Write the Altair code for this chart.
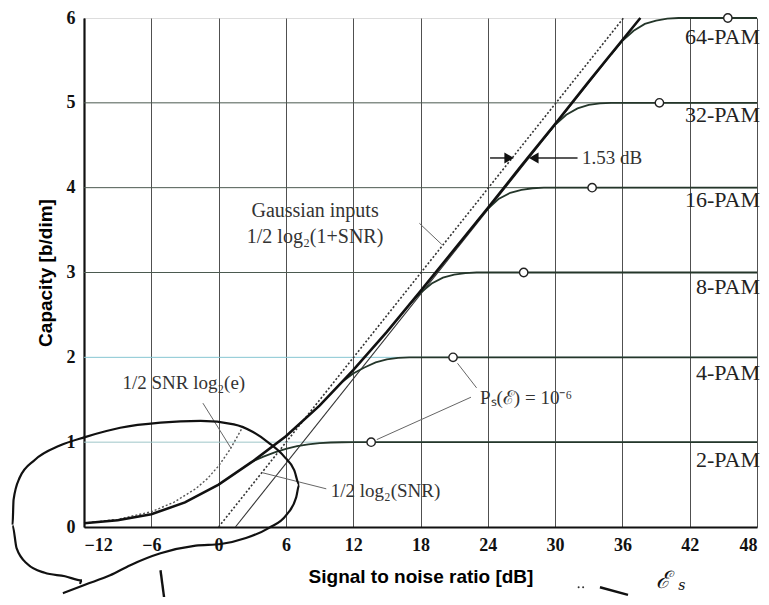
import altair as alt
import pandas as pd

# ---------------- data ----------------
x_ticks = [-12, -6, 0, 6, 12, 18, 24, 30, 36, 42, 48]
y_ticks = [0, 1, 2, 3, 4, 5, 6]
grid_levels = [1, 2, 3, 4, 5]

# thick envelope curve (SNR dB, capacity b/dim)
env_db = [-12, -9, -6, -3, 0, 3, 6, 9, 12, 15, 18, 21, 24, 27, 30, 33, 36, 37.6]
env_cap = [0.045, 0.08, 0.15, 0.29, 0.50, 0.77, 1.07, 1.43, 1.85, 2.30, 2.78, 3.27, 3.76, 4.26, 4.75, 5.25, 5.74, 6.0]

# M-PAM branches leaving the envelope and saturating
pam2_db = [3, 4, 5, 6, 7, 8, 9, 10, 11, 12, 48]
pam2_cap = [0.77, 0.83, 0.88, 0.92, 0.953, 0.975, 0.988, 0.996, 0.999, 1.0, 1.0]
pam4_db = [11, 12, 13, 14, 15, 16, 17, 48]
pam4_cap = [1.71, 1.81, 1.88, 1.94, 1.975, 1.993, 2.0, 2.0]
pam8_db = [17, 18, 19, 20, 21, 22, 23, 48]
pam8_cap = [2.62, 2.76, 2.87, 2.94, 2.975, 2.993, 3.0, 3.0]
pam16_db = [23, 24, 25, 26, 27, 28, 29, 48]
pam16_cap = [3.60, 3.75, 3.87, 3.94, 3.975, 3.993, 4.0, 4.0]
pam32_db = [29, 30, 31, 32, 33, 34, 35, 48]
pam32_cap = [4.58, 4.74, 4.86, 4.935, 4.975, 4.993, 5.0, 5.0]
pam64_db = [35, 36, 37, 38, 39, 40, 41, 48]
pam64_cap = [5.57, 5.73, 5.85, 5.93, 5.97, 5.993, 6.0, 6.0]

pam_names = ["2-PAM", "4-PAM", "8-PAM", "16-PAM", "32-PAM", "64-PAM"]
pam_label_cap = [0.79, 1.82, 2.83, 3.86, 4.86, 5.78]
pam_label_db = [48, 48, 48, 48, 48, 48]

# Ps(E)=1e-6 operating points (open circles)
circle_db = [13.6, 20.9, 27.2, 33.3, 39.3, 45.4]
circle_cap = [1, 2, 3, 4, 5, 6]

# dotted 1/2 log2(SNR) asymptote and thin shifted asymptote
asym_db = [0, 36.1]
asym_cap = [0, 6]
shift_db = [1.5, 37.6]
shift_cap = [0, 6]

# dotted low-SNR curve 1/2 SNR log2(e)
low_db = [-12, -9, -6, -4, -2, -1, 0, 1, 2.2]
low_cap = [0.045, 0.09, 0.18, 0.29, 0.455, 0.57, 0.72, 0.91, 1.19]

# leader lines: (x, y) -> (x2, y2)
lead_x = [17.9, -1.4, 9.6, 23.0, 22.5]
lead_y = [3.58, 1.46, 0.45, 1.64, 1.53]
lead_x2 = [19.9, 1.1, 3.9, 21.3, 14.1]
lead_y2 = [3.33, 0.93, 0.64, 1.93, 1.03]

# 1.53 dB arrows
arrow_y = 4.35
arrow_left_db = [24.2, 25.9]
arrow_right_db = [28.1, 32.0]

# annotation texts
big_text = ["Gaussian inputs", "1/2 log\u2082(1+SNR)"]
big_db = [8.6, 8.6]
big_cap = [3.72, 3.42]
ann_center_text = ["1/2 SNR log\u2082(e)"]
ann_center_db = [-3.1]
ann_center_cap = [1.70]
ann_left_text = ["1/2 log\u2082(SNR)", "P\u209b(\u2130) = 10\u207b\u2076", "1.53 dB"]
ann_left_db = [10.0, 23.3, 32.4]
ann_left_cap = [0.42, 1.52, 4.35]

# hand-drawn ink loop (in chart units)
loop_db = [-13.88, -11.91, -9.67, -7.87, -5.18, -2.04, 0.20, 2.44, 4.50, 6.03, 6.92, 7.19,
           6.74, 5.85, 4.50, 3.07, 1.36, -1.60, -5.18, -8.77, -11.91, -14.15, -16.39,
           -17.74, -18.28, -18.37, -18.01, -17.02, -15.50, -13.70, -12.18, -12.36]
loop_cap = [-0.78, -0.68, -0.57, -0.45, -0.31, -0.22, -0.20, -0.13, -0.01, 0.14, 0.35, 0.50,
            0.67, 0.83, 0.99, 1.12, 1.21, 1.25, 1.23, 1.17, 1.06, 0.96, 0.79,
            0.58, 0.32, 0.02, -0.25, -0.44, -0.54, -0.58, -0.63, -0.67]
stroke1_db = [-5.18, -4.74]
stroke1_cap = [-0.51, -0.95]
stroke2_db = [34.0, 36.5]
stroke2_cap = [-0.71, -0.80]
dots_db = [32.1, 32.5]
dots_cap = [-0.71, -0.71]
ink_big_text = ["\u2130"]
ink_big_db = [39.6]
ink_big_cap = [-0.64]
ink_small_text = ["s"]
ink_small_db = [41.3]
ink_small_cap = [-0.70]

# ---------------- chart ----------------
xs = alt.Scale(domain=[-12, 48], nice=False, zero=False)
ys = alt.Scale(domain=[0, 6], nice=False, zero=False)
xaxis = alt.Axis(values=x_ticks, grid=True, gridColor="#505050", gridWidth=1, ticks=False,
                 domainColor="#111", domainWidth=2.2, labelFont="Liberation Serif",
                 labelFontWeight="bold", labelFontSize=18, labelColor="#111", labelPadding=9,
                 title="Signal to noise ratio  [dB]", titleFont="Liberation Sans",
                 titleFontWeight=900, titleFontSize=19, titleColor="#000", titlePadding=13)
yaxis = alt.Axis(values=y_ticks, grid=False, ticks=False, domainColor="#111", domainWidth=2.2,
                 labelFont="Liberation Serif", labelFontWeight="bold", labelFontSize=18,
                 labelColor="#111", labelPadding=9, title="Capacity  [b/dim]",
                 titleFont="Liberation Sans", titleFontWeight=900, titleFontSize=19,
                 titleColor="#000", titlePadding=11)


def X(f):
    return alt.X(f, type="quantitative", scale=xs, axis=xaxis)


def Y(f):
    return alt.Y(f, type="quantitative", scale=ys, axis=yaxis)


grid_df = pd.DataFrame({"lvl": grid_levels, "x": [x_ticks[0]] * len(grid_levels),
                        "x2": [x_ticks[-1]] * len(grid_levels)})
hgrid = alt.Chart(grid_df).mark_rule(strokeWidth=1).encode(
    x=X("x"), x2="x2", y=Y("lvl"),
    color=alt.Color("lvl:O", scale=alt.Scale(domain=grid_levels,
                    range=["#9fc6c8", "#86c6d2", "#4b5a50", "#4b5a50", "#4b5a50"]), legend=None))

env = alt.Chart(pd.DataFrame({"x": env_db, "y": env_cap})).mark_line(
    color="#111", strokeWidth=2.6).encode(x=X("x"), y=Y("y"))

pam_rows = []
for name, dbs, caps in zip(pam_names, [pam2_db, pam4_db, pam8_db, pam16_db, pam32_db, pam64_db],
                           [pam2_cap, pam4_cap, pam8_cap, pam16_cap, pam32_cap, pam64_cap]):
    for i, (a, b) in enumerate(zip(dbs, caps)):
        pam_rows.append({"m": name, "x": a, "y": b, "o": i})
pam = alt.Chart(pd.DataFrame(pam_rows)).mark_line(color="#24362a", strokeWidth=1.8).encode(
    x=X("x"), y=Y("y"), detail="m:N", order="o:Q")

asym = alt.Chart(pd.DataFrame({"x": asym_db, "y": asym_cap})).mark_line(
    color="#333", strokeWidth=1.6, strokeDash=[2, 2]).encode(x=X("x"), y=Y("y"))
shift = alt.Chart(pd.DataFrame({"x": shift_db, "y": shift_cap})).mark_line(
    color="#333", strokeWidth=1.1).encode(x=X("x"), y=Y("y"))
low = alt.Chart(pd.DataFrame({"x": low_db, "y": low_cap})).mark_line(
    color="#555", strokeWidth=1.4, strokeDash=[2, 2]).encode(x=X("x"), y=Y("y"))

leads = alt.Chart(pd.DataFrame({"x": lead_x, "y": lead_y, "x2": lead_x2, "y2": lead_y2})).mark_rule(
    color="#666", strokeWidth=1).encode(x=X("x"), y=Y("y"), x2="x2", y2="y2")

circles = alt.Chart(pd.DataFrame({"x": circle_db, "y": circle_cap})).mark_point(
    shape="circle", filled=True, fill="white", stroke="#222", strokeWidth=1.4, size=70, opacity=1
).encode(x=X("x"), y=Y("y"))

pam_labels = alt.Chart(pd.DataFrame({"x": pam_label_db, "y": pam_label_cap, "t": pam_names})).mark_text(
    align="right", baseline="middle", font="Liberation Serif", fontSize=22, color="#222", dx=3
).encode(x=X("x"), y=Y("y"), text="t:N")

ann_big = alt.Chart(pd.DataFrame({"x": big_db, "y": big_cap, "t": big_text})).mark_text(
    align="center", baseline="middle", font="Liberation Serif", fontSize=20, color="#333"
).encode(x=X("x"), y=Y("y"), text="t:N")
ann_c = alt.Chart(pd.DataFrame({"x": ann_center_db, "y": ann_center_cap, "t": ann_center_text})).mark_text(
    align="center", baseline="middle", font="Liberation Serif", fontSize=19, color="#333"
).encode(x=X("x"), y=Y("y"), text="t:N")
ann_l = alt.Chart(pd.DataFrame({"x": ann_left_db, "y": ann_left_cap, "t": ann_left_text})).mark_text(
    align="left", baseline="middle", font="Liberation Serif", fontSize=19, color="#333"
).encode(x=X("x"), y=Y("y"), text="t:N")

arr_df = pd.DataFrame({"x": [arrow_left_db[0], arrow_right_db[0]], "x2": [arrow_left_db[1], arrow_right_db[1]],
                       "y": [arrow_y, arrow_y]})
arr_lines = alt.Chart(arr_df).mark_rule(color="#222", strokeWidth=1.5).encode(x=X("x"), x2="x2", y=Y("y"))
tri_r = alt.Chart(pd.DataFrame({"x": [arrow_left_db[1]], "y": [arrow_y]})).mark_point(
    shape="triangle-right", filled=True, color="#111", size=120, opacity=1).encode(x=X("x"), y=Y("y"))
tri_l = alt.Chart(pd.DataFrame({"x": [arrow_right_db[0]], "y": [arrow_y]})).mark_point(
    shape="triangle-left", filled=True, color="#111", size=120, opacity=1).encode(x=X("x"), y=Y("y"))

loop = alt.Chart(pd.DataFrame({"x": loop_db, "y": loop_cap, "o": list(range(len(loop_db)))})).mark_line(
    color="#111", strokeWidth=2.2, clip=False, interpolate="monotone").encode(x=X("x"), y=Y("y"), order="o:Q")
s1 = alt.Chart(pd.DataFrame({"x": stroke1_db, "y": stroke1_cap})).mark_line(
    color="#111", strokeWidth=2.4, clip=False).encode(x=X("x"), y=Y("y"))
s2 = alt.Chart(pd.DataFrame({"x": stroke2_db, "y": stroke2_cap})).mark_line(
    color="#111", strokeWidth=2.4, clip=False).encode(x=X("x"), y=Y("y"))
dots = alt.Chart(pd.DataFrame({"x": dots_db, "y": dots_cap})).mark_point(
    filled=True, color="#333", size=4, opacity=1, clip=False).encode(x=X("x"), y=Y("y"))
ink_big = alt.Chart(pd.DataFrame({"x": ink_big_db, "y": ink_big_cap, "t": ink_big_text})).mark_text(
    font="DejaVu Serif", fontSize=24, fontStyle="italic", color="#111", clip=False
).encode(x=X("x"), y=Y("y"), text="t:N")
ink_small = alt.Chart(pd.DataFrame({"x": ink_small_db, "y": ink_small_cap, "t": ink_small_text})).mark_text(
    font="DejaVu Serif", fontSize=14, fontStyle="italic", color="#111", clip=False
).encode(x=X("x"), y=Y("y"), text="t:N")

chart = alt.layer(hgrid, low, asym, shift, pam, env, leads, circles, pam_labels, ann_big, ann_c, ann_l,
                  arr_lines, tri_r, tri_l, loop, s1, s2, dots, ink_big, ink_small).properties(
    width=673, height=509,
    autosize=alt.AutoSizeParams(type="none"),
    padding={"left": 76, "top": 10, "right": 4, "bottom": 70},
).configure_view(stroke="#222", strokeWidth=1.6).configure(background="white")

chart.save("out.html", embed_options={"renderer": "svg", "actions": False})
